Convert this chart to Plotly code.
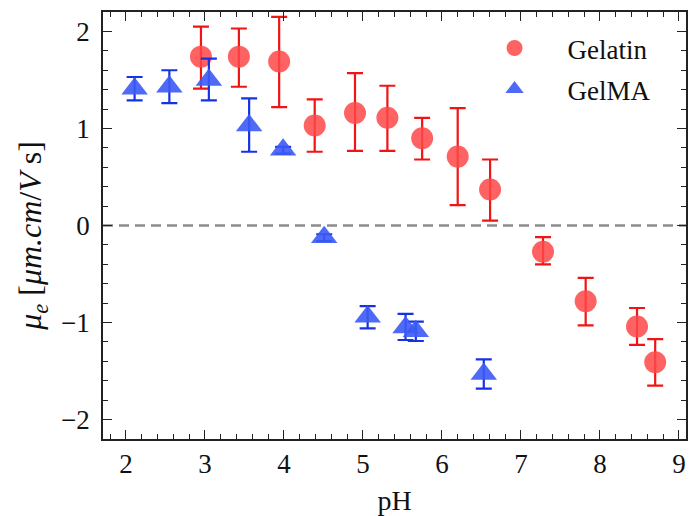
import plotly.graph_objects as go

# Gelatin (red circles)
gel_ph = [2.95, 3.43, 3.94, 4.39, 4.90, 5.31, 5.75, 6.20, 6.61, 7.28, 7.82, 8.47, 8.70]
gel_mu = [1.74, 1.74, 1.69, 1.03, 1.16, 1.11, 0.90, 0.71, 0.37, -0.27, -0.78, -1.04, -1.41]
gel_hi = [2.05, 2.03, 2.15, 1.30, 1.57, 1.44, 1.11, 1.21, 0.68, -0.12, -0.54, -0.85, -1.17]
gel_lo = [1.41, 1.43, 1.22, 0.76, 0.77, 0.77, 0.68, 0.21, 0.05, -0.40, -1.03, -1.23, -1.65]

# GelMA (blue triangles)
gma_ph = [2.11, 2.55, 3.05, 3.56, 3.99, 4.51, 5.06, 5.54, 5.67, 6.53]
gma_mu = [1.41, 1.43, 1.50, 1.03, 0.78, -0.12, -0.94, -1.05, -1.09, -1.53]
gma_hi = [1.53, 1.60, 1.72, 1.31, 0.81, -0.09, -0.83, -0.91, -0.99, -1.38]
gma_lo = [1.29, 1.26, 1.29, 0.76, 0.74, -0.16, -1.06, -1.18, -1.19, -1.68]

x_ticks = [2, 3, 4, 5, 6, 7, 8, 9]
y_ticks = [-2, -1, 0, 1, 2]
y_tick_text = ["\u22122", "\u22121", "0", "1", "2"]

FONT = "Liberation Serif"
RED_ERR = "#f01414"
RED_FILL = "rgba(255,70,70,0.85)"
BLUE_ERR = "#1432e6"
BLUE_FILL = "rgba(60,90,245,0.9)"

fig = go.Figure()
fig.add_trace(go.Scatter(
    x=gel_ph, y=gel_mu, mode="markers", name="Gelatin", legendgroup="a",
    marker=dict(symbol="circle", size=22, color=RED_FILL, line=dict(width=0)),
    error_y=dict(type="data", symmetric=False,
                 array=[h - m for h, m in zip(gel_hi, gel_mu)],
                 arrayminus=[m - l for m, l in zip(gel_mu, gel_lo)],
                 color=RED_ERR, thickness=2.2, width=8),
))
fig.add_trace(go.Scatter(
    x=gma_ph, y=gma_mu, mode="markers", name="GelMA", legendgroup="b",
    marker=dict(symbol="triangle-up", size=23, color=BLUE_FILL, line=dict(width=0)),
    error_y=dict(type="data", symmetric=False,
                 array=[h - m for h, m in zip(gma_hi, gma_mu)],
                 arrayminus=[m - l for m, l in zip(gma_mu, gma_lo)],
                 color=BLUE_ERR, thickness=2.2, width=8),
))

fig.add_shape(type="line", xref="paper", yref="y", x0=0, x1=1, y0=0, y1=0,
              line=dict(color="#8c8c8c", width=2.4, dash="10px,6px"), layer="below")

axis_common = dict(
    showgrid=False, zeroline=False, showline=True, linecolor="#222", linewidth=1.5,
    mirror="ticks", ticks="inside", ticklen=9, tickwidth=1.3, tickcolor="#222",
    tickfont=dict(family=FONT, size=27, color="#111"),
)

fig.update_xaxes(
    range=[1.71, 9.09], tickvals=x_ticks,
    minor=dict(dtick=0.2, ticks="inside", ticklen=5, tickwidth=1, tickcolor="#222"),
    title=dict(text="pH", font=dict(family=FONT, size=28, color="#111"), standoff=14),
    **axis_common,
)
fig.update_yaxes(
    range=[-2.2, 2.2], tickvals=y_ticks, ticktext=y_tick_text,
    minor=dict(dtick=0.2, ticks="inside", ticklen=5, tickwidth=1, tickcolor="#222"),
    ticklabelstandoff=6,
    **axis_common,
)

fig.add_annotation(
    text="<i>μ<sub>e</sub></i> [<i>μm.cm</i>/<i>V</i> s]",
    xref="paper", yref="paper", x=-0.12, y=0.476, xanchor="center", yanchor="middle",
    textangle=-90, showarrow=False,
    font=dict(family=FONT, size=32, color="#111"),
)

fig.update_layout(
    width=691, height=516,
    margin=dict(l=103, r=3, t=12, b=75),
    plot_bgcolor="white", paper_bgcolor="white",
    showlegend=True,
    legend=dict(x=0.615, y=0.972, xanchor="left", yanchor="top",
                bgcolor="rgba(0,0,0,0)", borderwidth=0,
                font=dict(family=FONT, size=27, color="#111"),
                traceorder="grouped", tracegroupgap=3, itemwidth=96),
)

fig.write_html("out.html")
